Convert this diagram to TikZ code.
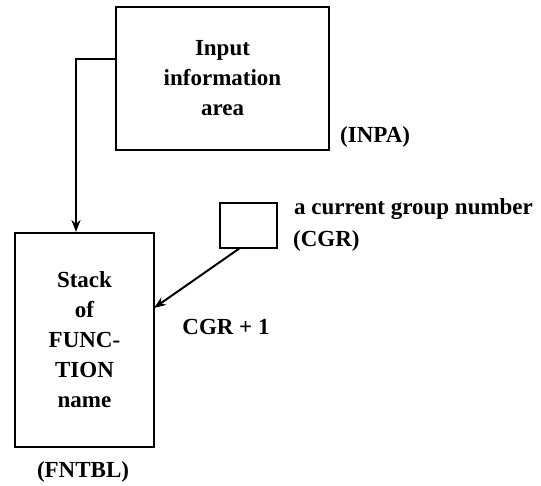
\documentclass[tikz,border=0pt]{standalone}
\usepackage{fontspec}
\setmainfont{Liberation Serif}
\usetikzlibrary{arrows.meta}
\begin{document}
\begin{tikzpicture}[x=1pt,y=-1pt,
  box/.style={draw, line width=2pt, inner sep=0pt, font=\bfseries\fontsize{23}{30}\selectfont, align=center},
  lbl/.style={inner sep=0pt, font=\bfseries\fontsize{23}{26}\selectfont},
  arr/.style={line width=2pt, -{Stealth[length=12pt,width=9pt]}}]
\useasboundingbox (0,0) rectangle (541,485);
\node[box, minimum width=213pt, minimum height=143pt] (inpa) at (222.5,78.5) {Input\\information\\area};
\node[box, minimum width=57pt, minimum height=45pt] (cgrbox) at (248.5,225.5) {};
\node[box, minimum width=139pt, minimum height=214pt] (fntbl) at (84.5,340) {Stack\\of\\FUNC-\\TION\\name};
\node[lbl, anchor=west] (inpalbl) at (340,137) {(INPA)};
\node[lbl, anchor=west] (cgrtxt) at (294,209) {a current group number};
\node[lbl, anchor=west] (cgrlbl) at (293,241) {(CGR)};
\node[lbl] (plus) at (226,327) {CGR + 1};
\node[lbl] (fntbllbl) at (83,472) {(FNTBL)};
\coordinate (turn) at (76,59);
\coordinate (src) at (240,248);
\coordinate (dst) at (154,308);
\draw[arr] (inpa.west |- turn) -- (turn) -- (fntbl.north -| turn);
\draw[arr] (src) -- (dst);
\end{tikzpicture}
\end{document}
